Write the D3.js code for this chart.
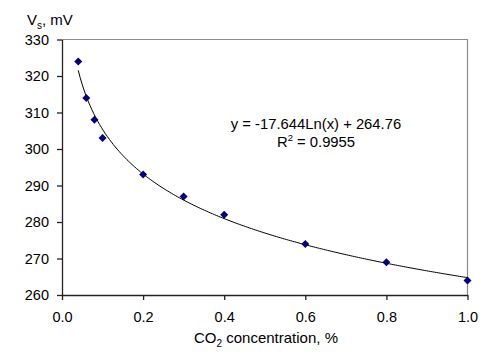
<!DOCTYPE html>
<html><head><meta charset="utf-8">
<script src="https://cdn.jsdelivr.net/npm/d3@7"></script>
<style>
html,body{margin:0;padding:0;background:#fff;}
svg{display:block;font-family:"Liberation Sans",Arial,sans-serif;}
</style></head>
<body><svg id="c" width="502" height="356"></svg>
<script>
const co2 = [0.04, 0.06, 0.08, 0.10, 0.20, 0.30, 0.40, 0.60, 0.80, 1.00];
const vs  = [324, 314, 308, 303, 293, 287, 282, 274, 269, 264];
const xTicks = [0.0, 0.2, 0.4, 0.6, 0.8, 1.0];
const yTicks = [260, 270, 280, 290, 300, 310, 320, 330];
const trendCoef = [-17.644, 264.76];
const eqLines = ["y = -17.644Ln(x) + 264.76"];

const svg = d3.select("#c");
const L = 62, R = 467.5, T = 39.5, B = 295;
const x = d3.scaleLinear().domain([0, 1]).range([L, R]);
const y = d3.scaleLinear().domain([260, 330]).range([B, T]);

// plot border (top/right)
svg.append("path")
  .attr("d", `M${L},${T}H${R}V${B}`)
  .attr("fill", "none").attr("stroke", "#8c8c8c").attr("stroke-width", 1.2);

// trendline
const samples = d3.range(0, 201).map(i => co2[0] + (co2[co2.length-1] - co2[0]) * i / 200);
svg.append("path")
  .datum(samples)
  .attr("fill", "none").attr("stroke", "#000").attr("stroke-width", 1)
  .attr("d", d3.line().x(d => x(d)).y(d => y(trendCoef[0] * Math.log(d) + trendCoef[1])));

// axes
const ax = svg.append("g").attr("transform", `translate(0,${B})`)
  .call(d3.axisBottom(x).tickValues(xTicks).tickFormat(d3.format(".1f")).tickSize(5).tickSizeOuter(0).tickPadding(12));
const ay = svg.append("g").attr("transform", `translate(${L},0)`)
  .call(d3.axisLeft(y).tickValues(yTicks).tickSize(5).tickSizeOuter(0).tickPadding(8));
[ax, ay].forEach(g => {
  g.selectAll("path.domain").attr("stroke", "#222").attr("stroke-width", 1.3);
  g.selectAll(".tick line").attr("stroke", "#222").attr("stroke-width", 1.3);
  g.selectAll(".tick text").attr("font-size", 14.5).attr("fill", "#000")
    .attr("font-family", "'Liberation Sans', Arial, sans-serif");
});

// markers
svg.append("g").selectAll("path").data(co2).join("path")
  .attr("transform", (d, i) => `translate(${x(d)},${y(vs[i])})`)
  .attr("d", "M0,-4L4,0L0,4L-4,0Z")
  .attr("fill", "#000080");

// y title
const yt = svg.append("text").attr("x", 27).attr("y", 25).attr("font-size", 15);
yt.append("tspan").text("V");
yt.append("tspan").text("s").attr("font-size", 10).attr("dy", 4);
yt.append("tspan").text(", mV").attr("dy", -4);

// x title
const xt = svg.append("text").attr("x", 266).attr("y", 343).attr("font-size", 15).attr("text-anchor", "middle");
xt.append("tspan").text("CO");
xt.append("tspan").text("2").attr("font-size", 10).attr("dy", 4);
xt.append("tspan").text(" concentration, %").attr("dy", -4);

// equation
svg.append("text").attr("x", 316).attr("y", 129).attr("font-size", 14.8).attr("text-anchor", "middle").text(eqLines[0]);
const r2 = svg.append("text").attr("x", 316).attr("y", 146.5).attr("font-size", 14.8).attr("text-anchor", "middle");
r2.append("tspan").text("R");
r2.append("tspan").text("2").attr("font-size", 9.5).attr("dy", -6);
r2.append("tspan").text(" = 0.9955").attr("dy", 6);
</script></body></html>
